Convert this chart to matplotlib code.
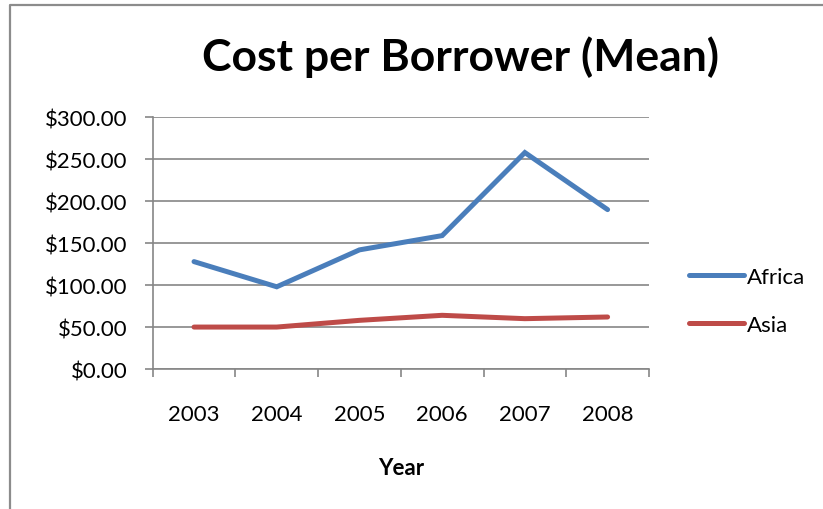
import matplotlib
matplotlib.use("Agg")
import matplotlib.pyplot as plt
from matplotlib.lines import Line2D
from matplotlib.ticker import FuncFormatter, MultipleLocator

years = ["2003", "2004", "2005", "2006", "2007", "2008"]
africa = [128, 98, 142, 159, 258, 190]
asia = [50, 50, 58, 64, 60, 62]

plt.rcParams["font.family"] = ["Lato", "DejaVu Sans"]
GRID = "#868686"


def main():
    fig = plt.figure(figsize=(8.23, 5.10), dpi=100)
    ax = fig.add_axes([0.1855, 0.2745, 0.603, 0.4935])

    x = range(len(years))
    ax.plot(x, africa, color="#4A7EBB", lw=3.6, solid_capstyle="round",
            solid_joinstyle="miter", label="Africa")
    ax.plot(x, asia, color="#BE4B48", lw=3.6, solid_capstyle="round",
            solid_joinstyle="miter", label="Asia")

    ax.set_xlim(-0.5, len(years) - 0.5)
    ax.set_ylim(0, 300)
    ax.yaxis.set_major_locator(MultipleLocator(50))
    ax.yaxis.set_major_formatter(FuncFormatter(lambda v, p: f"${v:.2f}"))
    ax.set_xticks([i - 0.5 for i in range(len(years) + 1)])
    ax.set_xticklabels([])
    ax.set_xticks(list(x), minor=True)
    ax.set_xticklabels(years, minor=True)
    ax.tick_params(axis="x", which="major", length=6, color=GRID, width=1.2)
    ax.tick_params(axis="x", which="minor", length=0, labelsize=16, pad=25)
    ax.tick_params(axis="y", length=6, color=GRID, width=1.2, labelsize=16, pad=12)

    ax.grid(axis="y", color=GRID, lw=1.2)
    ax.set_axisbelow(True)
    for s in ("top", "right"):
        ax.spines[s].set_visible(False)
    for s in ("left", "bottom"):
        ax.spines[s].set_color(GRID)
        ax.spines[s].set_linewidth(1.2)

    ax.set_xlabel("Year", fontsize=16, fontweight="bold", labelpad=24)
    fig.text(0.560, 0.888, "Cost per Borrower (Mean)", ha="center", va="center",
             fontsize=32, fontweight="bold")

    ax.legend(loc="center left", bbox_to_anchor=(0.837, 0.408),
              bbox_transform=fig.transFigure, frameon=False, fontsize=16,
              handlelength=2.5, handletextpad=0.1, labelspacing=1.28,
              borderpad=0, borderaxespad=0)

    # chart-area border (only left and top edges are in frame)
    top = 1 - 5.5 / 510
    left = 10 / 823
    fig.add_artist(Line2D([left, left, 1.1], [-0.1, top, top],
                          transform=fig.transFigure, color="#8C8C8C", lw=1.6))

    fig.savefig("out.png", dpi=100)


if __name__ == "__main__":
    main()
